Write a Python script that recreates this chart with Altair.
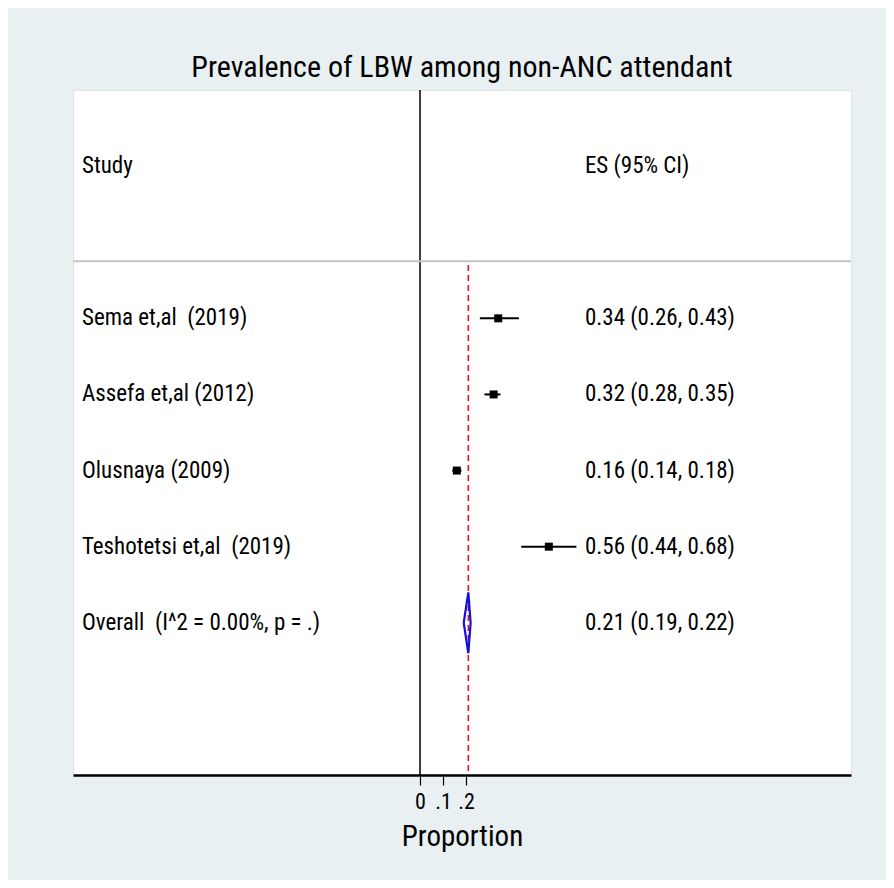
import altair as alt
import pandas as pd

# ---- data ----
studies = ["Sema et,al\u00a0 (2019)", "Assefa et,al (2012)", "Olusnaya (2009)", "Teshotetsi et,al\u00a0 (2019)"]
es = [0.34, 0.32, 0.16, 0.56]
lo = [0.26, 0.28, 0.14, 0.44]
hi = [0.43, 0.35, 0.18, 0.68]
overall_label = "Overall\u00a0 (I^2 = 0.00%, p = .)"
overall = [0.21, 0.19, 0.22]  # ES, lower, upper
rows = [3, 4, 5, 6]
overall_row = 7
header_row = 1
sep_row = 2.25
ymax = 9
x_ticks = [0, 0.1, 0.2]
label_col = -1.47   # x position (data units) of the study column
es_col = 0.717      # x position (data units) of the ES column
x_domain = [-1.509, 1.874]

FONT = "Liberation Sans Narrow, Arial Narrow, Roboto Condensed, Liberation Sans, sans-serif"

def fmt(v):
    return f"{v:.2f}"

studies_df = pd.DataFrame({
    "study": studies, "es": es, "lo": lo, "hi": hi, "row": rows,
    "estext": [f"{fmt(a)} ({fmt(b)}, {fmt(c)})" for a, b, c in zip(es, lo, hi)],
})

text_df = pd.DataFrame({
    "x": [label_col, es_col] + [label_col] * len(studies) + [es_col] * len(studies) + [label_col, es_col],
    "row": [header_row, header_row] + rows + rows + [overall_row, overall_row],
    "txt": ["Study", "ES (95% CI)"] + studies + list(studies_df["estext"]) +
           [overall_label, f"{fmt(overall[0])} ({fmt(overall[1])}, {fmt(overall[2])})"],
})

half_h = 0.4
diamond_df = pd.DataFrame({
    "x": [overall[1], overall[0], overall[2], overall[0], overall[1]],
    "row": [overall_row, overall_row - half_h, overall_row, overall_row + half_h, overall_row],
    "o": [0, 1, 2, 3, 4],
})

xscale = alt.Scale(domain=x_domain, nice=False, zero=False)
yscale = alt.Scale(domain=[0, ymax], reverse=True, nice=False, zero=False)

xaxis = alt.Axis(
    values=x_ticks, labelExpr="replace(format(datum.value, '.1~f'), '0.', '.')",
    grid=False, domainColor="black", domainWidth=2.5, tickColor="black", tickSize=10,
    tickWidth=1.2, labelFont=FONT, labelFontSize=22, labelColor="black", labelPadding=6,
    title="Proportion", titleFont=FONT, titleFontSize=29, titleFontWeight="normal",
    titleColor="black", titlePadding=10, labelOverlap=False, labelFlush=False,
)

base = alt.Chart(studies_df)

# axis carrier (invisible)
axis_layer = alt.Chart(pd.DataFrame({"x": [0], "row": [ymax]})).mark_point(opacity=0).encode(
    x=alt.X("x:Q", scale=xscale, axis=xaxis),
    y=alt.Y("row:Q", scale=yscale, axis=None),
)

# vertical zero line
zero_line = alt.Chart(pd.DataFrame({"x": [0], "y1": [0], "y2": [ymax]})).mark_rule(
    color="black", strokeWidth=1.5
).encode(x=alt.X("x:Q", scale=xscale), y=alt.Y("y1:Q", scale=yscale), y2="y2:Q")

# separator under header
sep = alt.Chart(pd.DataFrame({"x1": [x_domain[0]], "x2": [x_domain[1]], "y": [sep_row]})).mark_rule(
    color="#c4c4c4", strokeWidth=2
).encode(x=alt.X("x1:Q", scale=xscale), x2="x2:Q", y=alt.Y("y:Q", scale=yscale))

# overall dashed line
ref = alt.Chart(pd.DataFrame({"x": [overall[0]], "y1": [sep_row + 0.05], "y2": [ymax]})).mark_rule(
    color="#e8141a", strokeWidth=1.6, strokeDash=[6, 4]
).encode(x=alt.X("x:Q", scale=xscale), y=alt.Y("y1:Q", scale=yscale), y2="y2:Q")

ci = base.mark_rule(color="black", strokeWidth=2).encode(
    x=alt.X("lo:Q", scale=xscale), x2="hi:Q", y=alt.Y("row:Q", scale=yscale)
)
boxes = base.mark_square(color="black", opacity=1, size=64).encode(
    x=alt.X("es:Q", scale=xscale), y=alt.Y("row:Q", scale=yscale)
)

diamond = alt.Chart(diamond_df).mark_line(color="#1010e0", strokeWidth=2.2).encode(
    x=alt.X("x:Q", scale=xscale), y=alt.Y("row:Q", scale=yscale), order="o:Q"
)

texts = alt.Chart(text_df).mark_text(
    align="left", baseline="middle", font=FONT, fontSize=23, color="black"
).encode(x=alt.X("x:Q", scale=xscale), y=alt.Y("row:Q", scale=yscale), text="txt:N")

chart = alt.layer(axis_layer, zero_line, sep, ref, ci, diamond, boxes, texts).properties(
    width=778, height=685,
    title=alt.TitleParams("Prevalence of LBW among non-ANC attendant", font=FONT, fontSize=30,
                          fontWeight="normal", color="black", anchor="middle", offset=6),
    background="#e8f0f2",
    padding={"left": 65, "top": 82, "right": 35, "bottom": 105},
    autosize=alt.AutoSizeParams(type="none"),
).configure_view(fill="white", stroke="#dde5e7", strokeWidth=1)

chart.save("out.html", embed_options={"renderer": "svg", "actions": False})
